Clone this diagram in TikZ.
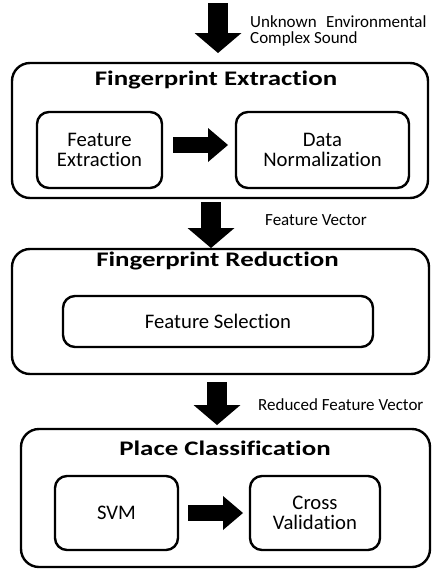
\documentclass[tikz,border=0pt]{standalone}
\usepackage{fontspec}
\setmainfont[Ligatures=NoCommon]{Carlito}
\newfontfamily\titlefont[FakeStretch=1.3,Ligatures=NoCommon]{Carlito}
\usetikzlibrary{arrows.meta}

\begin{document}
\begin{tikzpicture}[x=1pt,y=-1pt,
  stage/.style={draw, line width=2.4pt, rounded corners=18pt, inner sep=0pt, outer sep=0pt},
  stepbox/.style={draw, line width=2.4pt, rounded corners=12pt, inner sep=0pt, outer sep=0pt,
    align=center, font=\fontsize{20.7}{20}\selectfont},
  stagetitle/.style={anchor=base, inner sep=0pt, font=\titlefont\bfseries\fontsize{20.7}{24}\selectfont},
  flowlabel/.style={anchor=base west, inner sep=0pt, align=left, font=\fontsize{17}{16}\selectfont},
  downarrow/.style={line width=20pt, -{Triangle[length=20pt,width=47pt,line width=0pt]}},
  sidearrow/.style={line width=16pt, -{Triangle[length=20pt,width=34pt,line width=0pt]}}]

\useasboundingbox (0,0) rectangle (431,570);

% the three processing stages
\node[stage, minimum width=416pt, minimum height=135pt] (stage1) at (220,130.5) {};
\node[stage, minimum width=417pt, minimum height=125pt] (stage2) at (220.5,311.5) {};
\node[stage, minimum width=409pt, minimum height=138pt] (stage3) at (225.5,498) {};

\node[stagetitle] (title1) at (216,85) {Fingerprint Extraction};
\node[stagetitle] (title2) at (217.5,266) {Fingerprint Reduction};
\node[stagetitle] (title3) at (225,455) {Place Classification};

% steps inside each stage
\node[stepbox, minimum width=125pt, minimum height=76pt] (fe) at (99.5,150) {Feature\\Extraction};
\node[stepbox, minimum width=173pt, minimum height=76pt] (dn) at (322.5,150) {Data\\Normalization};
\node[stepbox, minimum width=310pt, minimum height=51pt] (fs) at (218,321.5) {Feature Selection};
\node[stepbox, minimum width=123pt, minimum height=74pt] (svm) at (116.5,513) {SVM};
\node[stepbox, minimum width=130pt, minimum height=74pt] (cv) at (315,513) {Cross\\Validation};

% data passed between stages
\node[flowlabel, anchor=north west] (lin) at (250,15.5) {Unknown\hspace{0.55em}Environmental\\Complex Sound};
\node[flowlabel] (lfv) at (265,225) {Feature Vector};
\node[flowlabel] (lrfv) at (258,410) {Reduced Feature Vector};

\coordinate (in1) at (218,3);
\draw[downarrow, shorten >=10pt] (in1) -- (in1 |- stage1.north);
\draw[downarrow, shorten <=4pt, shorten >=1pt]
  ([xshift=-9pt]stage1.south) -- ([xshift=-9pt]stage1.south |- stage2.north);
\draw[downarrow, shorten <=8pt, shorten >=4pt]
  ([xshift=-3.5pt]stage2.south) -- ([xshift=-3.5pt]stage2.south |- stage3.north);

\draw[sidearrow, shorten <=11pt, shorten >=8pt]
  ([yshift=5pt]fe.east) -- ([yshift=5pt]fe.east -| dn.west);
\draw[sidearrow, shorten <=10pt, shorten >=7pt] (svm.east) -- (cv.west);
\end{tikzpicture}
\end{document}
